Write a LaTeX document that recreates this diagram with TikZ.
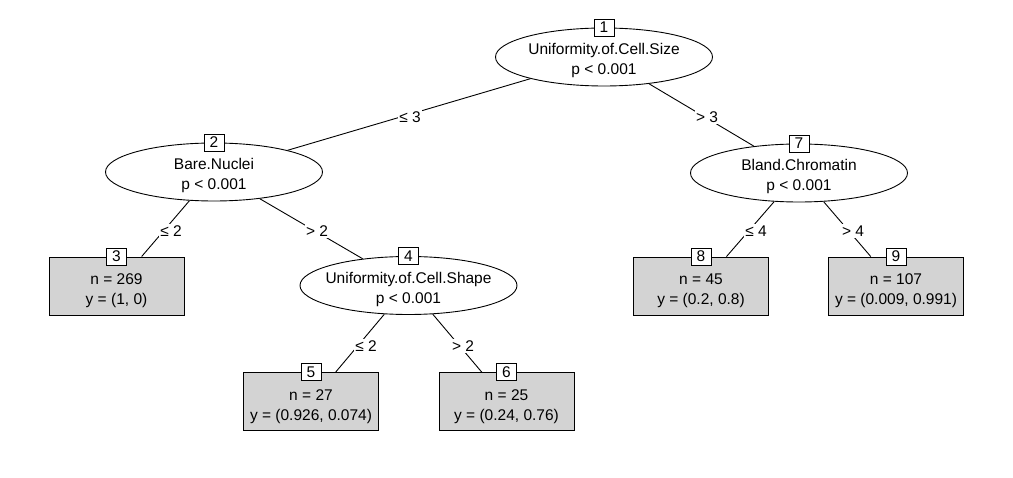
\documentclass[tikz,border=0pt]{standalone}
\usepackage{fontspec}
\setmainfont{Liberation Sans}
\usetikzlibrary{shapes.geometric}
\definecolor{leafgray}{HTML}{D3D3D3}
\begin{document}
\begin{tikzpicture}[x=1pt,y=-1pt,
  every node/.style={font=\fontsize{15.5}{20}\selectfont, text=black},
  inner/.style={ellipse, draw, fill=white, line width=0.9pt, minimum width=217pt, minimum height=58pt, inner sep=0pt},
  leaf/.style={rectangle, draw, fill=leafgray, line width=0.9pt, minimum width=135pt, minimum height=58pt, inner sep=0pt},
  ntext/.style={inner sep=0pt, align=center},
  idbox/.style={rectangle, draw, fill=white, line width=0.9pt, minimum width=20pt, minimum height=17pt, inner sep=0pt},
  conn/.style={draw, line width=0.9pt},
  elabel/.style={fill=white, inner sep=1.5pt}
]
\fill[white] (0,0) rectangle (1013,478);
\useasboundingbox (0,0) rectangle (1013,478);

% inner nodes
\node[inner] (n1) at (604,57) {};
\node[inner] (n2) at (214,172) {};
\node[inner] (n4) at (408.5,285.5) {};
\node[inner] (n7) at (799,173) {};
\node[ntext] (t1) at ([yshift=-3.5pt]n1.center) {Uniformity.of.Cell.Size\\p < 0.001};
\node[ntext] (t2) at ([yshift=-3.5pt]n2.center) {Bare.Nuclei\\p < 0.001};
\node[ntext] (t4) at ([yshift=-3.5pt]n4.center) {Uniformity.of.Cell.Shape\\p < 0.001};
\node[ntext] (t7) at ([yshift=-3.5pt]n7.center) {Bland.Chromatin\\p < 0.001};

% leaves
\node[leaf] (n3) at (116.5,286) {};
\node[leaf] (n5) at (311,401.5) {};
\node[leaf] (n6) at (506.5,401.5) {};
\node[leaf] (n8) at (701,286) {};
\node[leaf] (n9) at (896,286) {};
\node[ntext] (t3) at ([yshift=-5pt]n3.center) {n = 269\\y = (1, 0)};
\node[ntext] (t5) at ([yshift=-5pt]n5.center) {n = 27\\y = (0.926, 0.074)};
\node[ntext] (t6) at ([yshift=-5pt]n6.center) {n = 25\\y = (0.24, 0.76)};
\node[ntext] (t8) at ([yshift=-5pt]n8.center) {n = 45\\y = (0.2, 0.8)};
\node[ntext] (t9) at ([yshift=-5pt]n9.center) {n = 107\\y = (0.009, 0.991)};

% connectors
\draw[conn] (n1) -- (n2);
\draw[conn] (n1) -- (n7);
\draw[conn] (n2) -- (n3);
\draw[conn] (n2) -- (n4);
\draw[conn] (n4) -- (n5);
\draw[conn] (n4) -- (n6);
\draw[conn] (n7) -- (n8);
\draw[conn] (n7) -- (n9);

% edge labels
\node[elabel] (e12) at (410,117) {≤ 3};
\node[elabel] (e17) at (707,117) {> 3};
\node[elabel] (e23) at (171,231) {≤ 2};
\node[elabel] (e24) at (317,231) {> 2};
\node[elabel] (e45) at (366,346) {≤ 2};
\node[elabel] (e46) at (463,346) {> 2};
\node[elabel] (e78) at (756,231) {≤ 4};
\node[elabel] (e79) at (853,231) {> 4};

% id boxes
\node[idbox] (b1) at (n1.north) {1};
\node[idbox] (b2) at (n2.north) {2};
\node[idbox] (b4) at (n4.north) {4};
\node[idbox] (b7) at (n7.north) {7};
\node[idbox] (b3) at (n3.north) {3};
\node[idbox] (b5) at (n5.north) {5};
\node[idbox] (b6) at (n6.north) {6};
\node[idbox] (b8) at (n8.north) {8};
\node[idbox] (b9) at (n9.north) {9};
\end{tikzpicture}
\end{document}
